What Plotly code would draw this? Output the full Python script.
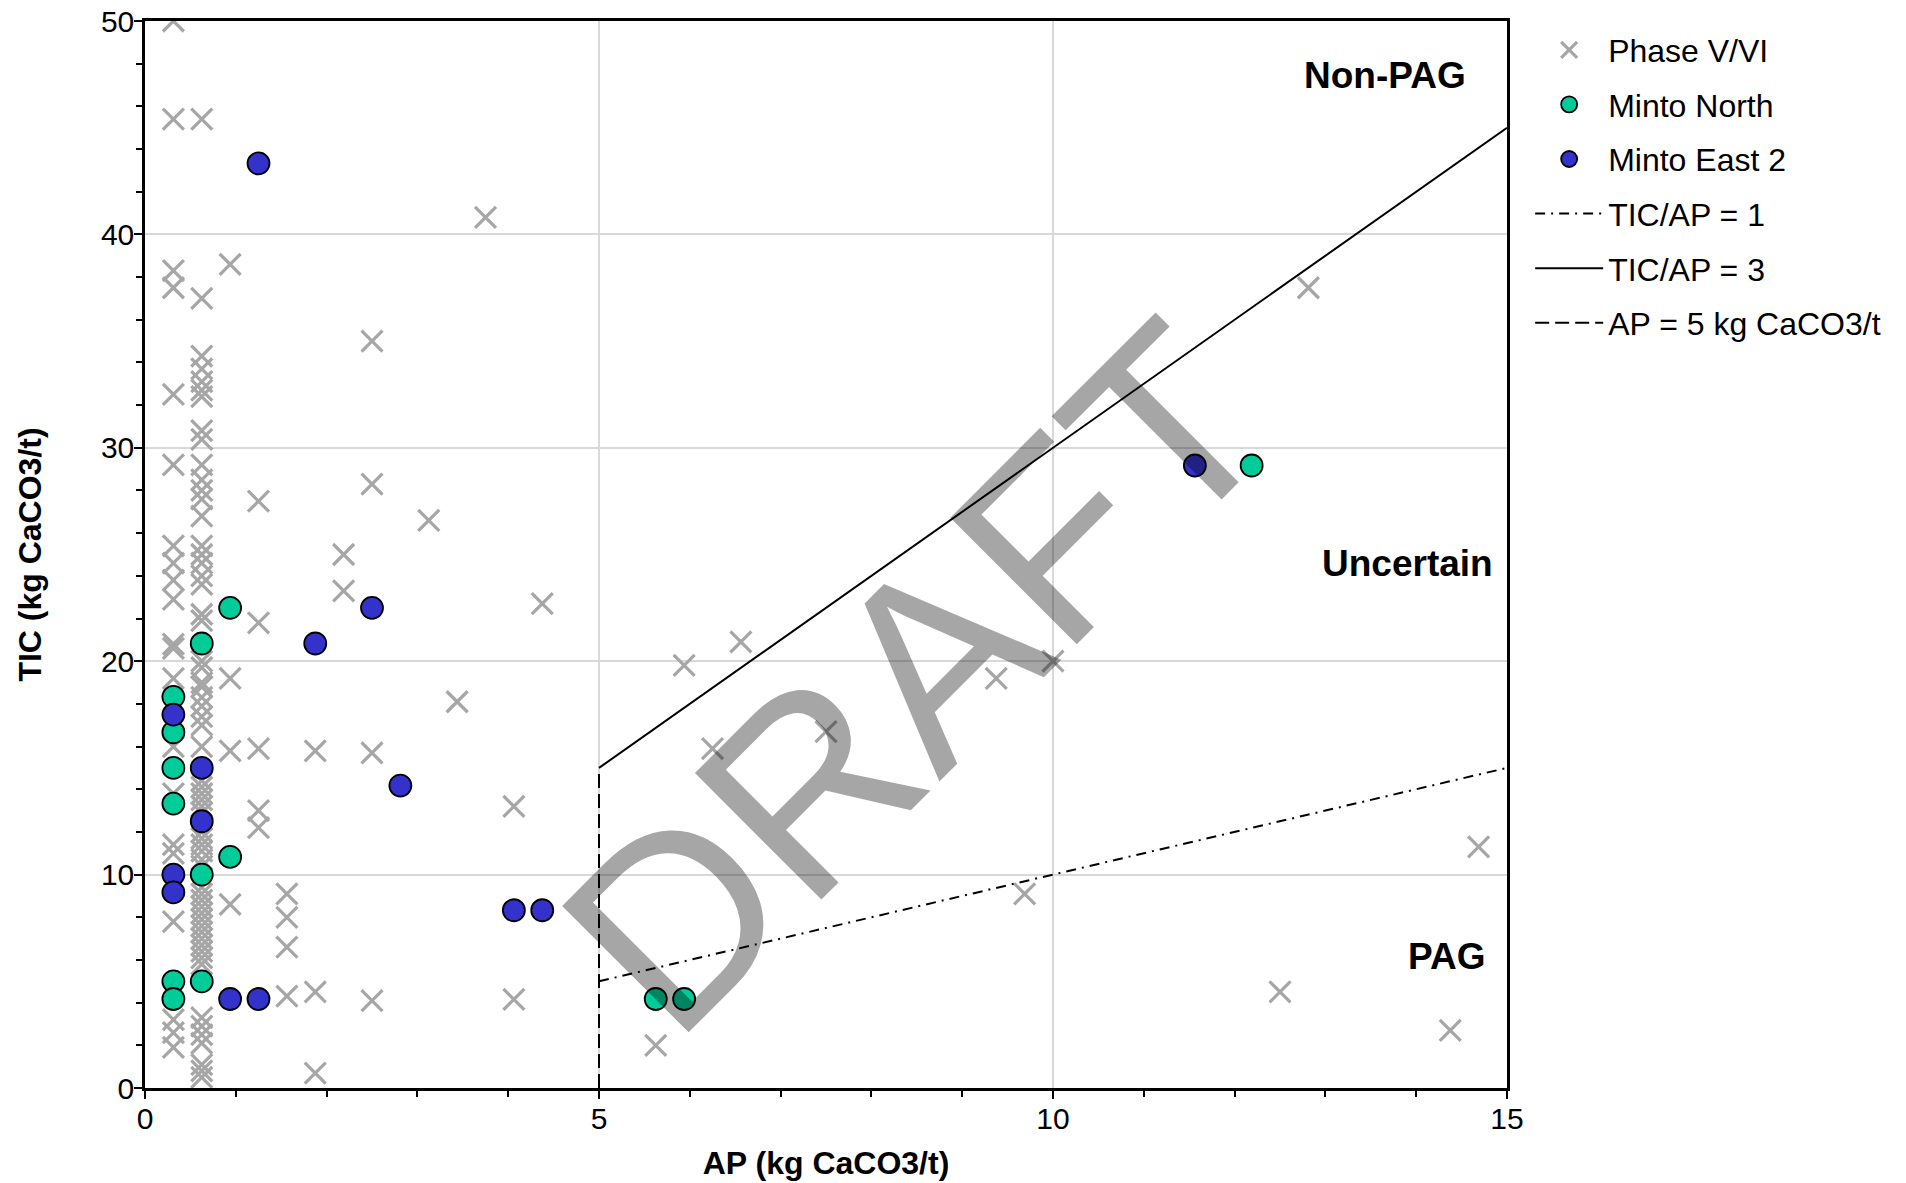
import plotly.graph_objects as go

# ---------------- data ----------------
# Phase V/VI (AP, TIC) grouped by AP column
phase_ap_c1 = 0.3125
phase_tic_c1 = [50.0, 45.4, 38.3, 37.5, 32.5, 29.2, 25.4, 24.6, 23.8, 22.9, 20.8, 20.6,
                19.2, 16.0, 13.8, 11.4, 11.0, 7.8, 3.2, 2.6, 1.9]
phase_ap_c2 = 0.625
phase_tic_c2 = [45.4, 37.0, 34.3, 33.7, 33.1, 32.7, 32.4, 30.8, 30.4, 29.2, 28.5, 28.0,
                27.6, 26.8, 25.4, 25.0, 24.6, 24.0, 23.6, 22.2, 21.9, 20.0, 19.7, 19.0,
                18.8, 18.3, 17.9, 17.4, 17.0, 16.0, 14.4, 14.1, 13.8, 13.5, 13.2, 12.9,
                12.0, 11.7, 11.4, 11.1, 10.7, 10.4, 9.4, 9.1, 8.8, 8.5, 8.2, 7.9, 7.6,
                7.3, 7.0, 6.7, 6.4, 6.1, 5.8, 3.3, 2.9, 2.5, 2.1, 1.1, 0.8, 0.5]
phase_ap_other = [0.9375, 0.9375, 0.9375, 0.9375,
                  1.25, 1.25, 1.25, 1.25, 1.25,
                  1.5625, 1.5625, 1.5625, 1.5625,
                  1.875, 1.875, 1.875,
                  2.1875, 2.1875,
                  2.5, 2.5, 2.5, 2.5,
                  3.125, 3.4375, 3.75, 4.0625, 4.0625, 4.375,
                  5.625, 5.9375, 6.25, 6.5625, 7.5, 9.375, 9.6875, 10.0,
                  12.5, 12.8125, 14.375, 14.6875]
phase_tic_other = [38.6, 19.2, 15.8, 8.6,
                   27.5, 21.8, 15.9, 13.0, 12.2,
                   9.1, 8.0, 6.6, 4.3,
                   15.8, 4.5, 0.7,
                   25.0, 23.3,
                   35.0, 28.3, 15.7, 4.1,
                   26.6, 18.1, 40.8, 13.2, 4.15, 22.7,
                   2.0, 19.8, 15.9, 20.9, 16.7, 19.2, 9.1, 20.0,
                   4.5, 37.5, 2.7, 11.3]

minto_north_ap = [0.3125, 0.3125, 0.3125, 0.3125, 0.3125, 0.3125, 0.625, 0.625, 0.625,
                  0.9375, 0.9375, 5.625, 5.9375, 12.1875]
minto_north_tic = [18.33, 16.67, 15.0, 13.33, 5.0, 4.17, 20.83, 10.0, 5.0,
                   22.5, 10.83, 4.17, 4.17, 29.17]

minto_east2_ap = [0.3125, 0.3125, 0.3125, 0.625, 0.625, 0.9375, 1.25, 1.25, 1.875,
                  2.5, 2.8125, 4.0625, 4.375, 11.5625]
minto_east2_tic = [17.5, 10.0, 9.17, 15.0, 12.5, 4.17, 43.33, 4.17, 20.83,
                   22.5, 14.17, 8.33, 8.33, 29.17]

# criteria lines
ratio1_ap = [5, 15]
ratio1_tic = [5, 15]
ratio3_ap = [5, 15]
ratio3_tic = [15, 45]
ap5_ap = [5, 5]
ap5_tic = [0, 15]

# region labels
region_labels = ["Non-PAG", "Uncertain", "PAG"]
region_ap = [13.66, 13.9, 14.33]
region_tic = [47.45, 24.6, 6.14]

phase_ap = [phase_ap_c1] * len(phase_tic_c1) + [phase_ap_c2] * len(phase_tic_c2) + phase_ap_other
phase_tic = phase_tic_c1 + phase_tic_c2 + phase_tic_other

FONT = "Liberation Sans, Arial, sans-serif"

fig = go.Figure()

fig.add_trace(go.Scatter(
    x=phase_ap, y=phase_tic, mode="markers", name="Phase V/VI", legendgroup="g1",
    marker=dict(symbol="x-thin", size=21, line=dict(color="#A6A6A6", width=3.2), color="#A6A6A6"),
))
fig.add_trace(go.Scatter(
    x=minto_north_ap, y=minto_north_tic, mode="markers", name="Minto North", legendgroup="g2",
    marker=dict(symbol="circle", size=22, color="#00CC99", line=dict(color="black", width=1.8)),
))
fig.add_trace(go.Scatter(
    x=minto_east2_ap, y=minto_east2_tic, mode="markers", name="Minto East 2", legendgroup="g3",
    marker=dict(symbol="circle", size=22, color="#3333CC", line=dict(color="black", width=1.8)),
))
fig.add_trace(go.Scatter(
    x=ratio1_ap, y=ratio1_tic, mode="lines", name="TIC/AP = 1", legendgroup="g4",
    line=dict(color="black", width=2, dash="10px,6px,2px,6px"),
))
fig.add_trace(go.Scatter(
    x=ratio3_ap, y=ratio3_tic, mode="lines", name="TIC/AP = 3", legendgroup="g5",
    line=dict(color="black", width=2),
))
fig.add_trace(go.Scatter(
    x=ap5_ap, y=ap5_tic, mode="lines", name="AP = 5 kg CaCO3/t", legendgroup="g6",
    line=dict(color="black", width=2, dash="14px,6px"),
))

annotations = []
for t, ax_, ay_ in zip(region_labels, region_ap, region_tic):
    annotations.append(dict(x=ax_, y=ay_, xref="x", yref="y", text="<b>%s</b>" % t,
                            showarrow=False, font=dict(family=FONT, size=37, color="black")))
annotations.append(dict(x=8.5, y=19.25, xref="x", yref="y", text="DRAFT", showarrow=False,
                        textangle=-45, font=dict(family=FONT, size=260, color="rgba(0,0,0,0.35)")))

axis_common = dict(
    showline=True, linecolor="black", linewidth=2.5, mirror=True,
    showgrid=True, gridcolor="#D9D9D9", gridwidth=1.5,
    ticks="outside", ticklen=8, tickwidth=2, tickcolor="black",
    tickfont=dict(family=FONT, size=30, color="black"),
    zeroline=False, automargin=False, ticklabeloverflow="allow",
    ticklabelstandoff=-6,
)

fig.update_layout(
    template="none",
    width=1906, height=1183,
    margin=dict(l=145, r=399, t=21, b=95),
    paper_bgcolor="white", plot_bgcolor="white",
    font=dict(family=FONT, color="black"),
    xaxis=dict(range=[0, 15], dtick=5, tick0=0,
               minor=dict(dtick=1, ticks="outside", ticklen=6, tickwidth=2, tickcolor="black", showgrid=False),
               title=dict(text="<b>AP (kg CaCO3/t)</b>", font=dict(family=FONT, size=32), standoff=18),
               **axis_common),
    yaxis=dict(range=[0, 50], dtick=10, tick0=0,
               minor=dict(dtick=2, ticks="outside", ticklen=6, tickwidth=2, tickcolor="black", showgrid=False),
               title=dict(text="<b>TIC (kg CaCO3/t)</b>", font=dict(family=FONT, size=32), standoff=50),
               **axis_common),
    legend=dict(x=1.017, y=0.9986, xanchor="left", yanchor="top",
                font=dict(family=FONT, size=32, color="black"),
                itemwidth=68, tracegroupgap=10, bgcolor="rgba(0,0,0,0)"),
    annotations=annotations,
)

fig.write_html("out.html",
               config={"displayModeBar": False},
               post_script="document.body.style.margin='0';document.body.style.overflow='hidden';")
